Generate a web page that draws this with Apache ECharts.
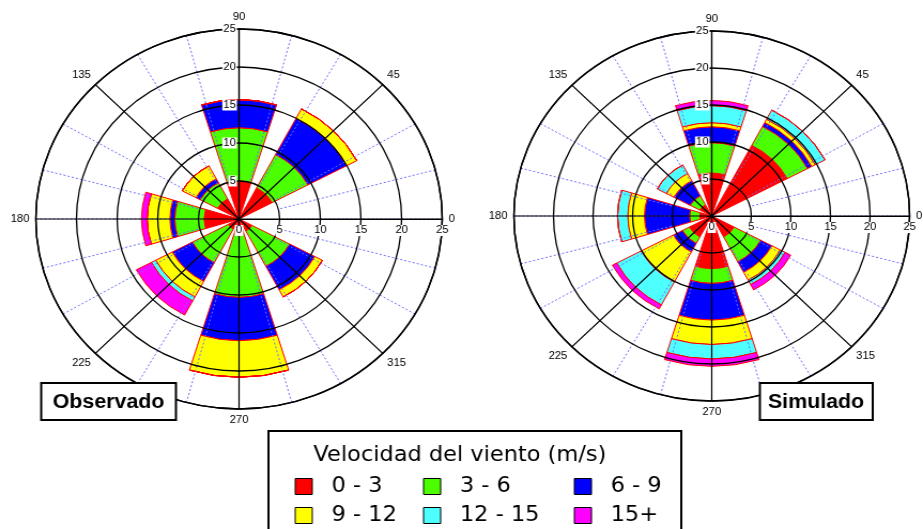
<!DOCTYPE html>
<html>
<head>
<meta charset="utf-8">
<script src="https://cdn.jsdelivr.net/npm/echarts@6/dist/echarts.min.js"></script>
<style>
  html, body { margin: 0; padding: 0; background: #fff; overflow: hidden; }
  /* the source picture is stretched sideways, so the roses are ellipses */
  #chart { width: 863px; height: 529px; transform: scaleX(1.0695); transform-origin: 0 0; }
</style>
</head>
<body>
<div id="chart"></div>
<script>
// wind directions (deg, counter-clockwise from east)
const directions = ['0', '45', '90', '135', '180', '225', '270', '315'];
const speedClasses = ['0 - 3', '3 - 6', '6 - 9', '9 - 12', '12 - 15', '15+'];
const classColors = ['#ff0000', '#4cff00', '#0000ff', '#ffff00', '#4dffff', '#ff00ff'];
const radiusMax = 25;
const radiusStep = 5;

// Observado (frequency per speed class, stacked)
const obs03 = [0, 4.6, 5.0, 3.0, 4.3, 1.5, 2.0, 1.8];
const obs36 = [0, 5.0, 7.0, 2.4, 3.6, 5.0, 8.3, 5.25];
const obs69 = [0, 5.4, 3.7, 0.6, 0.6, 2.8, 5.7, 3.5];
const obs912 = [0, 1.4, 0, 1.9, 2.8, 2.3, 4.8, 1.05];
const obs1215 = [0, 0, 0, 0, 0, 0.6, 0, 0];
const obs15p = [0, 0, 0, 0, 0.7, 2.1, 0, 0];

// Simulado
const sim03 = [0, 10.8, 5.8, 1.7, 1.5, 3.2, 7.1, 3.2];
const sim36 = [0, 2.9, 4.1, 1.4, 1.3, 1.0, 2.0, 3.8];
const sim69 = [0, 0.6, 2.15, 2.3, 5.7, 1.3, 4.95, 1.6];
const sim912 = [0, 0.5, 0.55, 1.1, 2.1, 4.6, 3.3, 1.2];
const sim1215 = [0, 1.4, 2.3, 1.3, 1.3, 3.5, 1.95, 0.7];
const sim15p = [0, 0, 0.7, 0, 0, 0.6, 1.0, 0.8];

const roses = [
  { center: [223.5, 219], radius: 190, data: [obs03, obs36, obs69, obs912, obs1215, obs15p] },
  { center: [665.5, 216], radius: 185, data: [sim03, sim36, sim69, sim912, sim1215, sim15p] }
];

const labelFont = { fontFamily: 'Liberation Sans', fontSize: 10.5, color: '#000' };

const polar = [];
const angleAxis = [];
const radiusAxis = [];
const series = [];

roses.forEach((rose, k) => {
  const base = k * 4;
  // 0: dotted 15 deg spokes, from r=5 outwards
  polar.push({ center: rose.center, radius: [rose.radius * radiusStep / radiusMax, rose.radius] });
  angleAxis.push({
    polarIndex: base, type: 'value', min: 0, max: 360, interval: 15, startAngle: 0, clockwise: false,
    axisLine: { show: false }, axisTick: { show: false }, axisLabel: { show: false },
    splitLine: { show: true, lineStyle: { color: '#7070ff', type: [2, 2], width: 1 } },
    z: 5
  });
  radiusAxis.push({ polarIndex: base, min: 0, max: radiusMax, show: false });

  // 1: black rings, 45 deg spokes, labels
  polar.push({ center: rose.center, radius: rose.radius });
  angleAxis.push({
    polarIndex: base + 1, type: 'value', min: 0, max: 360, interval: 45, startAngle: 0, clockwise: false,
    axisLine: { lineStyle: { color: '#000', width: 1.5 } },
    axisTick: { show: false },
    axisLabel: Object.assign({ margin: 6, formatter: (v) => (v === 360 ? '' : v) }, labelFont),
    splitLine: { show: true, lineStyle: { color: '#000', width: 1.2 } },
    z: 6
  });
  radiusAxis.push({
    polarIndex: base + 1, min: 0, max: radiusMax, interval: radiusStep,
    axisLine: { lineStyle: { color: '#000', width: 1.2 } },
    axisTick: { show: false },
    axisLabel: Object.assign({ margin: -17, backgroundColor: '#fff', padding: [0, 1] }, labelFont),
    splitLine: { show: true, lineStyle: { color: '#000', width: 1.3 } },
    z: 7
  });

  // 2: labels up the 90 deg spoke
  polar.push({ center: rose.center, radius: rose.radius });
  angleAxis.push({ polarIndex: base + 2, type: 'value', min: 0, max: 360, startAngle: 90, show: false });
  radiusAxis.push({
    polarIndex: base + 2, min: 0, max: radiusMax, interval: radiusStep,
    axisLine: { lineStyle: { color: '#000', width: 1.2 } },
    axisTick: { show: true, length: 5, lineStyle: { color: '#000' } },
    axisLabel: Object.assign({ margin: 2, backgroundColor: '#fff', padding: [0, 1],
      formatter: (v) => (v === 0 ? '' : v) }, labelFont),
    splitLine: { show: false },
    z: 8
  });

  // 3: the stacked bars
  polar.push({ center: rose.center, radius: rose.radius });
  angleAxis.push({
    polarIndex: base + 3, type: 'category', data: directions,
    startAngle: -22.5, clockwise: false, show: false
  });
  radiusAxis.push({ polarIndex: base + 3, min: 0, max: radiusMax, show: false });

  rose.data.forEach((values, i) => {
    series.push({
      type: 'bar',
      coordinateSystem: 'polar',
      polarIndex: base + 3,
      name: speedClasses[i],
      stack: 'rose' + k,
      barCategoryGap: '24%',
      data: values,
      itemStyle: { color: classColors[i], borderColor: '#ff0000', borderWidth: 1 },
      emphasis: { disabled: true },
      z: 2
    });
  });
});

const legendCommon = {
  orient: 'vertical',
  top: 471,
  height: 80,
  icon: 'rect',
  itemWidth: 16,
  itemHeight: 16,
  itemGap: 8,
  selectedMode: false,
  itemStyle: { borderColor: '#000', borderWidth: 1 },
  textStyle: { fontFamily: 'DejaVu Sans', fontSize: 21, lineHeight: 21, color: '#000', padding: [0, 0, 0, 13] }
};

const option = {
  backgroundColor: '#fff',
  animation: false,
  polar,
  angleAxis,
  radiusAxis,
  series,
  legend: [
    Object.assign({ left: 270.5, data: [speedClasses[0], speedClasses[3]] }, legendCommon),
    Object.assign({ left: 390.5, data: [speedClasses[1], speedClasses[4]] }, legendCommon),
    Object.assign({ left: 531.5, data: [speedClasses[2], speedClasses[5]] }, legendCommon)
  ],
  graphic: [
    { type: 'rect', z: 0, shape: { x: 251, y: 431, width: 386, height: 110 },
      style: { fill: '#fff', stroke: '#000', lineWidth: 2 } },
    { type: 'text', z: 5, x: 430, y: 456,
      style: { text: 'Velocidad del viento (m/s)', font: '21px "DejaVu Sans"', fill: '#000',
        align: 'center', verticalAlign: 'middle' } },
    { type: 'rect', z: 100, shape: { x: 38.5, y: 383, width: 126, height: 37 },
      style: { fill: '#fff', stroke: '#000', lineWidth: 2 } },
    { type: 'text', z: 101, x: 101.5, y: 402,
      style: { text: 'Observado', font: 'bold 20px "Liberation Sans"', fill: '#000',
        align: 'center', verticalAlign: 'middle' } },
    { type: 'rect', z: 100, shape: { x: 710.5, y: 383, width: 105.5, height: 37 },
      style: { fill: '#fff', stroke: '#000', lineWidth: 2 } },
    { type: 'text', z: 101, x: 763, y: 402,
      style: { text: 'Simulado', font: 'bold 20px "Liberation Sans"', fill: '#000',
        align: 'center', verticalAlign: 'middle' } }
  ]
};

const chart = echarts.init(document.getElementById('chart'));
chart.setOption(option);
</script>
</body>
</html>
